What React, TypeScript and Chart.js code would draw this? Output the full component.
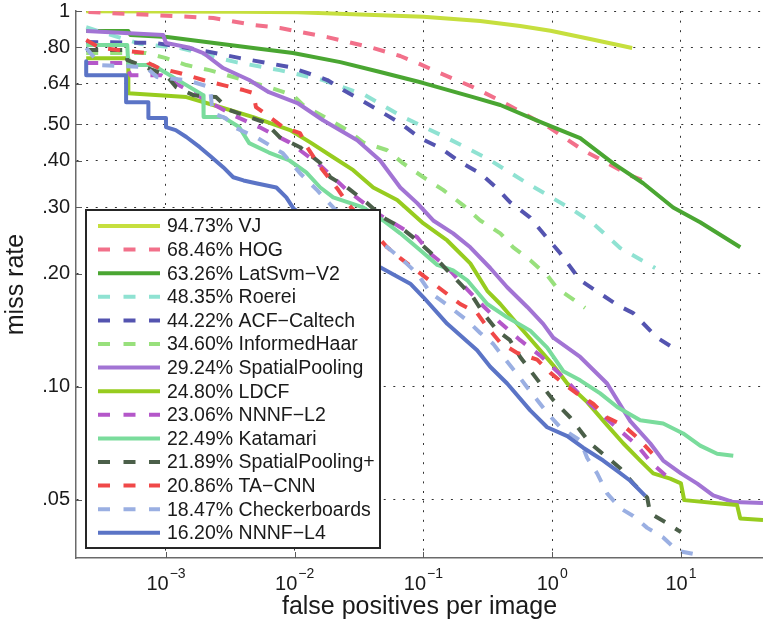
import React, { useEffect, useRef } from 'react';
import { Chart, registerables } from 'chart.js';

Chart.register(...registerables);

const FONT = '"Liberation Sans", Arial, Helvetica, sans-serif';

// ---- legend / series names and scores ----
const methodNames = [
  'VJ', 'HOG', 'LatSvm\u2212V2', 'Roerei', 'ACF\u2212Caltech', 'InformedHaar', 'SpatialPooling',
  'LDCF', 'NNNF\u2212L2', 'Katamari', 'SpatialPooling+', 'TA\u2212CNN', 'Checkerboards', 'NNNF\u2212L4',
];
const logAvgMissRate = [
  '94.73%', '68.46%', '63.26%', '48.35%', '44.22%', '34.60%', '29.24%',
  '24.80%', '23.06%', '22.49%', '21.89%', '20.86%', '18.47%', '16.20%',
];

// ---- axis ticks ----
const xTickValues = [1e-3, 1e-2, 1e-1, 1, 10];
const xTickExponents = ['\u22123', '\u22122', '\u22121', '0', '1'];
const yTickValues = [0.05, 0.1, 0.2, 0.3, 0.4, 0.5, 0.64, 0.8, 1];
const yTickLabels = ['.05', '.10', '.20', '.30', '.40', '.50', '.64', '.80', '1'];

// ---- series data: false positives per image (fppi) vs miss rate ----
const vjFppi = [2.4e-4, 3.8e-3, 0.0105, 0.1, 0.276, 0.564, 0.97, 1.97, 4.18];
const vjMiss = [0.999, 0.996, 0.992, 0.966, 0.94, 0.912, 0.886, 0.842, 0.797];

const hogFppi = [2.5e-4, 2.33e-3, 4.76e-3, 7.7e-3, 0.0179, 0.0407, 0.066, 0.094, 0.135, 0.243, 0.417, 0.965, 1.74, 4.04, 5.09];
const hogMiss = [0.994, 0.958, 0.918, 0.901, 0.852, 0.797, 0.759, 0.722, 0.683, 0.627, 0.572, 0.488, 0.426, 0.365, 0.354];

const latSvmFppi = [2.4e-4, 5.1e-4, 5.3e-4, 1.02e-3, 4.76e-3, 9.7e-3, 0.0226, 0.0461, 0.1, 0.243, 0.395, 0.851, 1.65, 2.98, 5.09, 8.7, 14.1, 28.9];
const latSvmMiss = [0.884, 0.884, 0.863, 0.853, 0.797, 0.773, 0.731, 0.688, 0.643, 0.59, 0.562, 0.503, 0.459, 0.393, 0.348, 0.3, 0.274, 0.235];

const roereiFppi = [2.4e-4, 6.3e-4, 1.29e-3, 2.2e-3, 3.5e-3, 7.6e-3, 0.0166, 0.0353, 0.0696, 0.153, 0.313, 0.675, 1.02, 1.46, 2.08, 3.37, 6.31];
const roereiMiss = [0.905, 0.818, 0.797, 0.76, 0.731, 0.696, 0.655, 0.597, 0.522, 0.459, 0.405, 0.344, 0.317, 0.295, 0.272, 0.234, 0.207];

const acfFppi = [2.4e-4, 8.3e-4, 1.85e-3, 3.77e-3, 9.2e-3, 0.0125, 0.0179, 0.0238, 0.034, 0.0487, 0.066, 0.094, 0.135, 0.193, 0.276, 0.374, 0.47, 0.675, 0.851, 1.15, 1.65, 2.36, 3.2, 4.26, 6.54, 9.0];
const acfMiss = [0.827, 0.822, 0.787, 0.749, 0.709, 0.684, 0.655, 0.616, 0.575, 0.535, 0.503, 0.459, 0.432, 0.396, 0.37, 0.337, 0.31, 0.282, 0.256, 0.227, 0.192, 0.177, 0.165, 0.157, 0.135, 0.126];

const informedHaarFppi = [2.4e-4, 7.0e-4, 1.0e-3, 1.44e-3, 2.17e-3, 6.3e-3, 9.7e-3, 0.0116, 0.0189, 0.0256, 0.034, 0.0523, 0.0696, 0.1, 0.142, 0.204, 0.276, 0.395, 0.498, 0.675, 0.914, 1.09, 1.38, 1.8];
const informedHaarMiss = [0.773, 0.773, 0.749, 0.718, 0.696, 0.627, 0.597, 0.562, 0.512, 0.482, 0.447, 0.426, 0.393, 0.361, 0.334, 0.304, 0.277, 0.256, 0.235, 0.217, 0.198, 0.183, 0.173, 0.162];

const spatialPoolingFppi = [2.4e-4, 9.5e-4, 1.0e-3, 1.5e-3, 1.95e-3, 2.78e-3, 4.43e-3, 6.3e-3, 0.0105, 0.0166, 0.0306, 0.0461, 0.066, 0.0894, 0.119, 0.17, 0.231, 0.33, 0.447, 0.64, 0.851, 1.02, 1.65, 2.67, 4.04, 5.77, 7.28, 10, 13.4, 17.8, 25.5, 43.4];
const spatialPoolingMiss = [0.884, 0.863, 0.822, 0.8, 0.773, 0.705, 0.655, 0.608, 0.569, 0.512, 0.453, 0.4, 0.339, 0.308, 0.277, 0.256, 0.235, 0.207, 0.184, 0.163, 0.147, 0.135, 0.12, 0.102, 0.081, 0.0707, 0.0636, 0.0588, 0.0552, 0.0514, 0.0493, 0.049];

const ldcfFppi = [2.4e-4, 5.1e-4, 5.1e-4, 1.44e-3, 2.33e-3, 4.76e-3, 9.2e-3, 0.0132, 0.0199, 0.0285, 0.0407, 0.0625, 0.1, 0.153, 0.231, 0.313, 0.395, 0.564, 0.807, 1.02, 1.31, 1.87, 2.67, 3.56, 4.83, 6.09, 8.25, 10, 10.6, 20.1, 27.3, 28.9, 43.4];
const ldcfMiss = [0.749, 0.749, 0.604, 0.59, 0.562, 0.522, 0.482, 0.447, 0.408, 0.377, 0.339, 0.314, 0.272, 0.245, 0.213, 0.18, 0.166, 0.144, 0.125, 0.114, 0.102, 0.091, 0.079, 0.0707, 0.0636, 0.0588, 0.0569, 0.0553, 0.0499, 0.0489, 0.0484, 0.0446, 0.0442];

const nnnfL2Fppi = [2.4e-4, 4.8e-4, 5.3e-4, 9.2e-4, 1.14e-3, 1.85e-3, 3.33e-3, 5.3e-3, 9.1e-3, 0.0158, 0.0256, 0.0461, 0.0894, 0.113, 0.153, 0.204, 0.291, 0.395, 0.564, 0.807, 1.15, 1.65, 2.36, 3.37, 4.57, 5.98, 7.95];
const nnnfL2Miss = [0.727, 0.727, 0.675, 0.675, 0.647, 0.59, 0.528, 0.491, 0.447, 0.388, 0.333, 0.286, 0.25, 0.226, 0.208, 0.186, 0.164, 0.148, 0.133, 0.121, 0.108, 0.095, 0.085, 0.0764, 0.0698, 0.0624, 0.0573];

const katamariFppi = [2.4e-4, 5.0e-4, 5.1e-4, 7.9e-4, 1.44e-3, 1.95e-3, 1.96e-3, 2.78e-3, 3.7e-3, 4.43e-3, 6.3e-3, 9.1e-3, 0.0123, 0.0158, 0.0199, 0.034, 0.0487, 0.066, 0.094, 0.128, 0.17, 0.219, 0.313, 0.447, 0.675, 0.914, 1.22, 1.65, 2.36, 3.2, 4.83, 7.28, 10.4, 14.1, 19.1, 25.5];
const katamariMiss = [0.812, 0.812, 0.718, 0.718, 0.635, 0.597, 0.522, 0.522, 0.491, 0.445, 0.42, 0.4, 0.372, 0.339, 0.319, 0.3, 0.277, 0.256, 0.231, 0.211, 0.204, 0.192, 0.166, 0.153, 0.141, 0.127, 0.11, 0.104, 0.096, 0.0883, 0.0814, 0.0798, 0.0751, 0.0697, 0.0663, 0.0655];

const spatialPoolingPlusFppi = [2.4e-4, 4.9e-4, 5.0e-4, 1.0e-3, 1.2e-3, 1.63e-3, 2.45e-3, 3.1e-3, 4.43e-3, 6.0e-3, 7.6e-3, 0.011, 0.0158, 0.0189, 0.0256, 0.0366, 0.0487, 0.066, 0.0894, 0.119, 0.153, 0.193, 0.243, 0.291, 0.374, 0.47, 0.564, 0.807, 1.02, 1.38, 1.65, 1.97, 2.67, 3.37, 4.26, 5.47, 5.77, 7.82, 10];
const spatialPoolingPlusMiss = [0.787, 0.787, 0.74, 0.675, 0.627, 0.597, 0.59, 0.545, 0.522, 0.503, 0.462, 0.434, 0.394, 0.361, 0.339, 0.308, 0.282, 0.266, 0.245, 0.224, 0.204, 0.188, 0.173, 0.157, 0.141, 0.133, 0.12, 0.102, 0.0921, 0.0828, 0.0765, 0.0707, 0.0649, 0.0607, 0.0553, 0.0507, 0.046, 0.0433, 0.041];

const taCnnFppi = [2.4e-4, 3.1e-4, 7.0e-4, 7.3e-4, 8.8e-4, 1.27e-3, 1.95e-3, 2.78e-3, 4.0e-3, 4.76e-3, 5.0e-3, 6.4e-3, 8.1e-3, 0.011, 0.0125, 0.0158, 0.0214, 0.0256, 0.0523, 0.066, 0.113, 0.193, 0.261, 0.313, 0.395, 0.535, 0.764, 0.965, 1.22, 1.56, 2.08, 2.67, 3.56, 4.57, 5.98];
const taCnnMiss = [0.837, 0.797, 0.773, 0.727, 0.705, 0.684, 0.655, 0.635, 0.616, 0.605, 0.555, 0.522, 0.491, 0.473, 0.434, 0.384, 0.337, 0.308, 0.235, 0.22, 0.191, 0.166, 0.157, 0.144, 0.131, 0.123, 0.118, 0.109, 0.102, 0.0959, 0.0901, 0.0828, 0.0789, 0.0733, 0.0665];

const checkerboardsFppi = [2.4e-4, 3.1e-4, 7.0e-4, 8.5e-4, 1.44e-3, 2.2e-3, 2.3e-3, 2.9e-3, 3.5e-3, 5.0e-3, 8.1e-3, 0.011, 0.015, 0.0199, 0.0366, 0.0523, 0.0696, 0.0894, 0.113, 0.153, 0.219, 0.276, 0.348, 0.417, 0.535, 0.64, 0.764, 0.914, 1.15, 1.65, 1.87, 2.24, 2.67, 3.37, 4.26, 5.47, 7.28, 9.35, 12.4, 13.4];
const checkerboardsMiss = [0.797, 0.718, 0.709, 0.667, 0.655, 0.627, 0.535, 0.519, 0.488, 0.462, 0.418, 0.37, 0.333, 0.3, 0.25, 0.235, 0.217, 0.2, 0.178, 0.165, 0.15, 0.139, 0.13, 0.12, 0.108, 0.0995, 0.0922, 0.0852, 0.0781, 0.0719, 0.0646, 0.0587, 0.052, 0.0475, 0.0453, 0.0421, 0.0397, 0.0366, 0.0359, 0.0342];

const nnnfL4Fppi = [2.4e-4, 2.4e-4, 4.9e-4, 4.9e-4, 7.3e-4, 7.3e-4, 1.0e-3, 1.0e-3, 1.19e-3, 1.44e-3, 1.83e-3, 2.17e-3, 2.78e-3, 3.33e-3, 4.0e-3, 5.0e-3, 7.2e-3, 8.6e-3, 9.8e-3, 0.0189, 0.0461, 0.079, 0.1, 0.153, 0.261, 0.33, 0.447, 0.675, 0.914, 1.31, 1.74, 2.49, 3.2, 4.04, 5.28];
const nnnfL4Miss = [0.735, 0.675, 0.675, 0.572, 0.572, 0.519, 0.519, 0.491, 0.482, 0.462, 0.434, 0.413, 0.384, 0.361, 0.354, 0.348, 0.339, 0.319, 0.298, 0.253, 0.208, 0.188, 0.173, 0.147, 0.125, 0.113, 0.102, 0.0865, 0.078, 0.0739, 0.0688, 0.0636, 0.0597, 0.0562, 0.0512];

const seriesFppi = [vjFppi, hogFppi, latSvmFppi, roereiFppi, acfFppi, informedHaarFppi, spatialPoolingFppi, ldcfFppi, nnnfL2Fppi, katamariFppi, spatialPoolingPlusFppi, taCnnFppi, checkerboardsFppi, nnnfL4Fppi];
const seriesMiss = [vjMiss, hogMiss, latSvmMiss, roereiMiss, acfMiss, informedHaarMiss, spatialPoolingMiss, ldcfMiss, nnnfL2Miss, katamariMiss, spatialPoolingPlusMiss, taCnnMiss, checkerboardsMiss, nnnfL4Miss];

// ---- styles ----
const lineColors = [
  '#c6df3e', '#f2708a', '#4aa632', '#8fe2d2', '#5454b0', '#98e07c', '#a274d4',
  '#97cc1f', '#b457c9', '#7adc9c', '#4b5f49', '#f04848', '#9aafe2', '#5b74c6',
];
const isDashed = [false, true, false, true, true, true, false, false, true, false, true, true, true, false];
const DASH = [12, 12];
const LEGEND_DASH = [12, 13.5];

const decorPlugin = {
  id: 'decor',
  afterDraw(chart: any) {
    const { ctx, chartArea, scales } = chart;
    const xs = scales.x;
    const ys = scales.y;
    ctx.save();
    // inward tick marks
    ctx.strokeStyle = '#5a5a5a';
    ctx.lineWidth = 1;
    ctx.setLineDash([]);
    xTickValues.forEach((v) => {
      const px = Math.round(xs.getPixelForValue(v)) + 0.5;
      ctx.beginPath();
      ctx.moveTo(px, chartArea.bottom);
      ctx.lineTo(px, chartArea.bottom - 6);
      ctx.stroke();
    });
    yTickValues.forEach((v) => {
      const py = Math.round(ys.getPixelForValue(v)) + 0.5;
      ctx.beginPath();
      ctx.moveTo(chartArea.left, py);
      ctx.lineTo(chartArea.left + 6, py);
      ctx.stroke();
    });

    // x tick labels 10^n
    ctx.fillStyle = '#1a1a1a';
    ctx.textBaseline = 'alphabetic';
    ctx.textAlign = 'left';
    xTickValues.forEach((v, i) => {
      const px = xs.getPixelForValue(v);
      ctx.font = `20px ${FONT}`;
      const wb = ctx.measureText('10').width;
      ctx.font = `14px ${FONT}`;
      const we = ctx.measureText(xTickExponents[i]).width;
      const x0 = px - (wb + we + 1) / 2;
      ctx.font = `20px ${FONT}`;
      ctx.fillText('10', x0, chartArea.bottom + 32);
      ctx.font = `14px ${FONT}`;
      ctx.fillText(xTickExponents[i], x0 + wb + 1, chartArea.bottom + 20);
    });

    // legend box
    const lx0 = chartArea.left + 10;
    const lx1 = lx0 + 294;
    const ly1 = chartArea.bottom - 10;
    const rowH = 23.6;
    const ly0 = ly1 - 338;
    ctx.fillStyle = '#ffffff';
    ctx.fillRect(lx0, ly0, lx1 - lx0, ly1 - ly0);
    ctx.strokeStyle = '#262626';
    ctx.lineWidth = 2;
    ctx.strokeRect(lx0, ly0, lx1 - lx0, ly1 - ly0);
    ctx.font = `19.5px ${FONT}`;
    ctx.textBaseline = 'middle';
    methodNames.forEach((name, i) => {
      const y = ly0 + 16 + i * rowH;
      ctx.strokeStyle = lineColors[i];
      ctx.lineWidth = 4;
      ctx.lineCap = 'butt';
      ctx.setLineDash(isDashed[i] ? LEGEND_DASH : []);
      ctx.beginPath();
      ctx.moveTo(lx0 + 12, y);
      ctx.lineTo(lx0 + 74, y);
      ctx.stroke();
      ctx.setLineDash([]);
      ctx.fillStyle = '#1a1a1a';
      ctx.fillText(`${logAvgMissRate[i]} ${name}`, lx0 + 81, y + 1);
    });
    ctx.restore();
  },
};

export default function App() {
  const canvasRef = useRef<HTMLCanvasElement | null>(null);

  useEffect(() => {
    const canvas = canvasRef.current;
    if (!canvas) return;
    const datasets = methodNames.map((name, i) => ({
      label: name,
      data: seriesFppi[i].map((f, j) => ({ x: f, y: seriesMiss[i][j] })),
      borderColor: lineColors[i],
      backgroundColor: lineColors[i],
      borderWidth: 4,
      borderDash: isDashed[i] ? DASH : [],
      borderCapStyle: 'butt',
      borderJoinStyle: 'round',
      pointRadius: 0,
      pointHoverRadius: 0,
      tension: 0,
      fill: false,
      order: -i,
    }));

    const chart = new Chart(canvas, {
      type: 'line',
      data: { datasets } as any,
      plugins: [decorPlugin],
      options: {
        animation: false,
        responsive: false,
        devicePixelRatio: 1,
        events: [],
        layout: { padding: { top: 11, right: 0, left: 0, bottom: 0 } },
        plugins: { legend: { display: false }, tooltip: { enabled: false } },
        scales: {
          x: {
            type: 'logarithmic',
            min: 2e-4,
            max: 43.4,
            afterBuildTicks: (scale: any) => {
              scale.ticks = xTickValues.map((v) => ({ value: v }));
            },
            afterFit: (scale: any) => {
              scale.height = 68;
            },
            ticks: { display: false },
            grid: { color: '#333333', lineWidth: 1, drawTicks: false },
            border: { display: true, color: '#6a6a6a', width: 1.5, dash: [2, 7.6] },
            title: {
              display: true,
              text: 'false positives per image',
              color: '#1a1a1a',
              font: { family: FONT, size: 25 },
              padding: { top: 0, bottom: 4 },
            },
          },
          y: {
            type: 'logarithmic',
            min: 0.035,
            max: 1,
            afterBuildTicks: (scale: any) => {
              scale.ticks = yTickValues.map((v) => ({ value: v }));
            },
            afterFit: (scale: any) => {
              scale.width = 76;
              scale.paddingTop = 0;
              scale.paddingBottom = 0;
            },
            ticks: {
              autoSkip: false,
              padding: 6,
              color: '#1a1a1a',
              font: { family: FONT, size: 20 },
              callback: (value: any) => {
                const idx = yTickValues.findIndex((v) => Math.abs(v - Number(value)) < 1e-9);
                return idx >= 0 ? yTickLabels[idx] : '';
              },
            },
            grid: { color: '#333333', lineWidth: 1, drawTicks: false },
            border: { display: true, color: '#6a6a6a', width: 1.5, dash: [2, 7.6] },
            title: {
              display: true,
              text: 'miss rate',
              color: '#1a1a1a',
              font: { family: FONT, size: 25 },
              padding: { top: 1, bottom: 0 },
            },
          },
        },
      } as any,
    });
    return () => chart.destroy();
  }, []);

  return (
    <div style={{ position: 'fixed', left: 0, top: 0, width: 763, height: 626, background: '#fff' }}>
      <canvas ref={canvasRef} width={763} height={626} style={{ display: 'block', width: 763, height: 626 }} />
    </div>
  );
}
